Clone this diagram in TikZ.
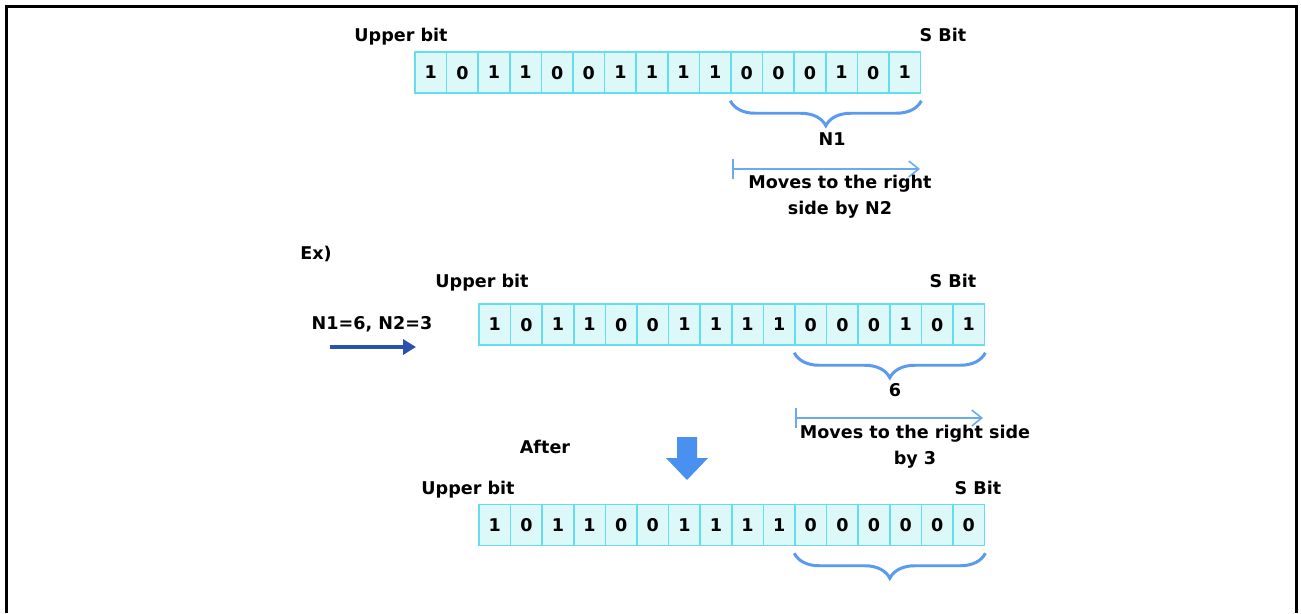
\documentclass[tikz,border=0pt]{standalone}
\usepackage{fontspec}
\setmainfont{DejaVu Sans}
\usetikzlibrary{arrows.meta,decorations.pathreplacing}
\definecolor{cellfill}{HTML}{DDF8F8}
\definecolor{cellline}{HTML}{66DDEE}
\definecolor{bracecol}{HTML}{5A9AF0}
\definecolor{movecol}{HTML}{6AAAF0}
\definecolor{navyarrow}{HTML}{2A50B0}
\definecolor{downcol}{HTML}{4A90F0}
\begin{document}
\begin{tikzpicture}[x=0.02cm,y=-0.02cm,
  every node/.style={font=\fontsize{10}{14.7}\selectfont\bfseries,inner sep=0pt,text depth=0pt},
  cell/.style={draw=cellline,fill=cellfill,line width=0.85pt,minimum width=0.632cm,minimum height=0.82cm},
  brc/.style={draw=bracecol,line width=1.7pt,decorate,decoration={brace,mirror,amplitude=0.5cm,raise=0.14cm}},
  move/.style={draw=movecol,line width=0.9pt,{Bar[width=0.4cm]}-{Straight Barb[length=0.2cm,width=0.32cm]}}]
  \useasboundingbox (0,0) rectangle (1301,613);
  \draw[line width=2pt] (6.5,613) -- (6.5,6.5) -- (1296.5,6.5) -- (1296.5,613);

  % first register
  \node (up1) at (401,35) {Upper bit};
  \node (sb1) at (943,35) {S Bit};
  \foreach \b [count=\i] in {1,0,1,1,0,0,1,1,1,1,0,0,0,1,0,1}
    \node[cell] (a\i) at ({415+31.6*(\i-0.5)},72.5) {\b};
  \draw[brc] (a11.south west) -- (a16.south east);
  \node (n1) at (832,139) {N1};
  \coordinate (m1s) at (732,169);
  \coordinate (m1e) at (920,169);
  \draw[move] (m1s) -- (m1e);
  \node[align=center] (mv1) at (840,195) {Moves to the right\\side by N2};

  % example
  \node (ex) at (316,253) {Ex)};
  \node (up2) at (482,281) {Upper bit};
  \node (sb2) at (953,281) {S Bit};
  \node (nn) at (372,323) {N1=6, N2=3};
  \coordinate (na) at (330,347);
  \coordinate (nb) at (416,347);
  \draw[navyarrow,line width=2.3pt,-{Triangle[length=0.26cm,width=0.3cm]}] (na) -- (nb);
  \foreach \b [count=\i] in {1,0,1,1,0,0,1,1,1,1,0,0,0,1,0,1}
    \node[cell] (b\i) at ({479+31.6*(\i-0.5)},324.5) {\b};
  \draw[brc] (b11.south west) -- (b16.south east);
  \node (six) at (895,390) {6};
  \coordinate (m2s) at (795,418);
  \coordinate (m2e) at (983,418);
  \draw[move] (m2s) -- (m2e);
  \node[align=center] (mv2) at (915,445) {Moves to the right side\\by 3};

  % after shifting
  \node (aft) at (545,447) {After};
  \fill[downcol] (677,437) -- (697,437) -- (697,458) -- (708,458) -- (687,480) -- (666,458) -- (677,458) -- cycle;
  \node (up3) at (468,488) {Upper bit};
  \node (sb3) at (978,488) {S Bit};
  \foreach \b [count=\i] in {1,0,1,1,0,0,1,1,1,1,0,0,0,0,0,0}
    \node[cell] (c\i) at ({479+31.6*(\i-0.5)},525) {\b};
  \draw[brc] (c11.south west) -- (c16.south east);
\end{tikzpicture}
\end{document}
